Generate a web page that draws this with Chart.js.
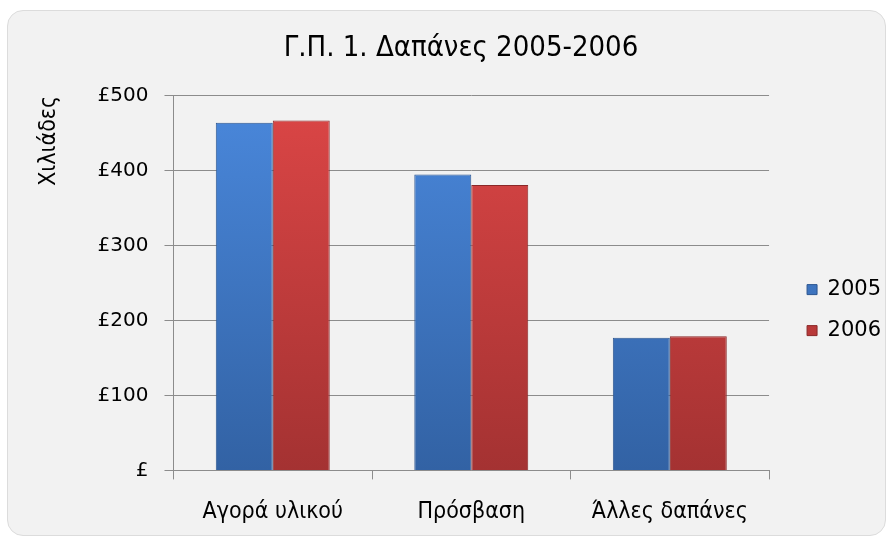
<!DOCTYPE html>
<html>
<head>
<meta charset="utf-8">
<script src="https://cdn.jsdelivr.net/npm/chart.js@4/dist/chart.umd.min.js"></script>
<style>
    html, body { margin: 0; padding: 0; background: #fff; }
    #card {
        position: absolute; left: 7px; top: 10px; width: 877px; height: 524px;
        background: #f2f2f2; border: 1px solid #dcdcdc; border-radius: 16px;
    }
    #wrap { position: absolute; left: 0; top: 0; width: 893px; height: 538px; }
</style>
</head>
<body>
<div id="card"></div>
<div id="wrap"><canvas id="chart" width="893" height="538"></canvas></div>
<script>
var categories = ['Αγορά υλικού', 'Πρόσβαση', 'Άλλες δαπάνες'];
var series2005 = [464, 395, 177];
var series2006 = [467, 381, 179];
var seriesNames = ['2005', '2006'];
var yTicks = [0, 100, 200, 300, 400, 500];

function barFill(top, bottom){
    return function(ctx){
        var area = ctx.chart.chartArea;
        if(!area) return bottom;
        var g = ctx.chart.ctx.createLinearGradient(0, area.top, 0, area.bottom);
        g.addColorStop(0, top);
        g.addColorStop(1, bottom);
        return g;
    };
}

var condFont = "'DejaVu Sans Condensed', 'DejaVu Sans', sans-serif";
var wideFont = "'DejaVu Sans', sans-serif";

new Chart(document.getElementById('chart').getContext('2d'), {
    type: 'bar',
    data: {
        labels: categories,
        datasets: [{
            label: seriesNames[0],
            data: series2005,
            backgroundColor: barFill('#4a88dc', '#3262a4'),
            borderColor: '#2c5690',
            borderWidth: 1
        }, {
            label: seriesNames[1],
            data: series2006,
            backgroundColor: barFill('#dc4646', '#a43232'),
            borderColor: '#8a2828',
            borderWidth: 1
        }]
    },
    options: {
        responsive: false,
        animation: false,
        categoryPercentage: 0.574,
        barPercentage: 1,
        layout: { padding: { left: 31, right: 2, top: 19, bottom: -7 } },
        plugins: {
            title: {
                display: true,
                text: 'Γ.Π. 1. Δαπάνες 2005-2006',
                color: '#000',
                font: { family: condFont, size: 29, weight: 'normal' },
                padding: { top: 12, bottom: 30 }
            },
            legend: {
                position: 'right',
                title: { display: true, text: '', font: { size: 1 }, padding: { top: 55, bottom: 0 } },
                labels: {
                    color: '#000',
                    font: { family: wideFont, size: 21 },
                    boxWidth: 10,
                    boxHeight: 10,
                    padding: 20
                }
            },
            tooltip: { enabled: false }
        },
        scales: {
            x: {
                grid: { display: true, offset: true, drawOnChartArea: false, color: '#8c8c8c', tickLength: 9 },
                border: { color: '#8c8c8c' },
                ticks: { color: '#000', font: { family: condFont, size: 23 }, padding: 19 }
            },
            y: {
                min: 0,
                max: 500,
                afterBuildTicks: function(axis){
                    axis.ticks = yTicks.map(function(v){ return { value: v }; });
                },
                grid: { color: '#8c8c8c', tickLength: 9 },
                border: { color: '#8c8c8c' },
                ticks: {
                    color: '#000',
                    font: { family: wideFont, size: 20 },
                    padding: 16,
                    callback: function(v){ return v === 0 ? '£' : '£' + v; }
                },
                title: {
                    display: true,
                    text: 'Χιλιάδες',
                    align: 'end',
                    color: '#000',
                    font: { family: condFont, size: 23 },
                    padding: { bottom: 19 }
                }
            },
            gap: {
                type: 'linear',
                position: 'right',
                display: true,
                grid: { display: false, drawTicks: false },
                border: { display: false },
                ticks: { display: false },
                afterFit: function(axis){ axis.width = 18; }
            }
        }
    }
});
</script>
</body>
</html>
